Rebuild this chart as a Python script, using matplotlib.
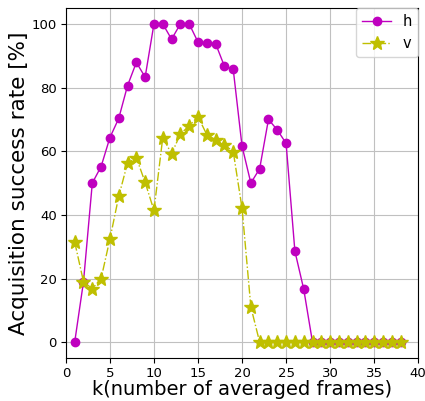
import numpy as np
import matplotlib
matplotlib.use("Agg")
import matplotlib.pyplot as plt

# k = number of averaged frames
k = np.arange(1, 39)

# acquisition success rate [%]
h_rate = [0, 19, 50, 55.2, 64.3, 70.3, 80.6, 87.9, 83.3, 100,
          100, 95.2, 100, 100, 94.3, 94.1, 93.8, 86.7, 85.7, 61.6,
          50, 54.5, 70, 66.7, 62.5, 28.6, 16.7, 0, 0, 0,
          0, 0, 0, 0, 0, 0, 0, 0]
v_rate = [31.5, 19, 16.8, 20, 32.4, 45.8, 56.3, 58, 50.2, 41.4,
          64.3, 59.2, 65.4, 68, 70.9, 65.2, 63.6, 62, 59.9, 42.1,
          11.1, 0, 0, 0, 0, 0, 0, 0, 0, 0,
          0, 0, 0, 0, 0, 0, 0, 0]

fig = plt.figure(figsize=(4.25, 4.01), dpi=100)
ax = fig.add_axes([0.155, 0.107, 0.829, 0.873])

ax.plot(k, h_rate, color="m", marker="o", markersize=6, linewidth=1, label="h")
ax.plot(k, v_rate, color="y", marker="*", markersize=10.5, linestyle="-.",
        linewidth=1, label="v")

ax.set_xlim(0, 40)
ax.set_ylim(-5, 105)
ax.set_xticks(range(0, 41, 5))
ax.set_yticks(range(0, 101, 20))
ax.tick_params(labelsize=9.5, pad=3)
ax.grid(True, color="#c0c0c0")
ax.set_xlabel("k(number of averaged frames)", fontsize=14, labelpad=0)
ax.set_ylabel("Acquisition success rate [%]", fontsize=15.5, labelpad=2)
ax.legend(loc="upper right", fontsize=10.5, borderaxespad=0)

fig.savefig("out.png", dpi=100)
